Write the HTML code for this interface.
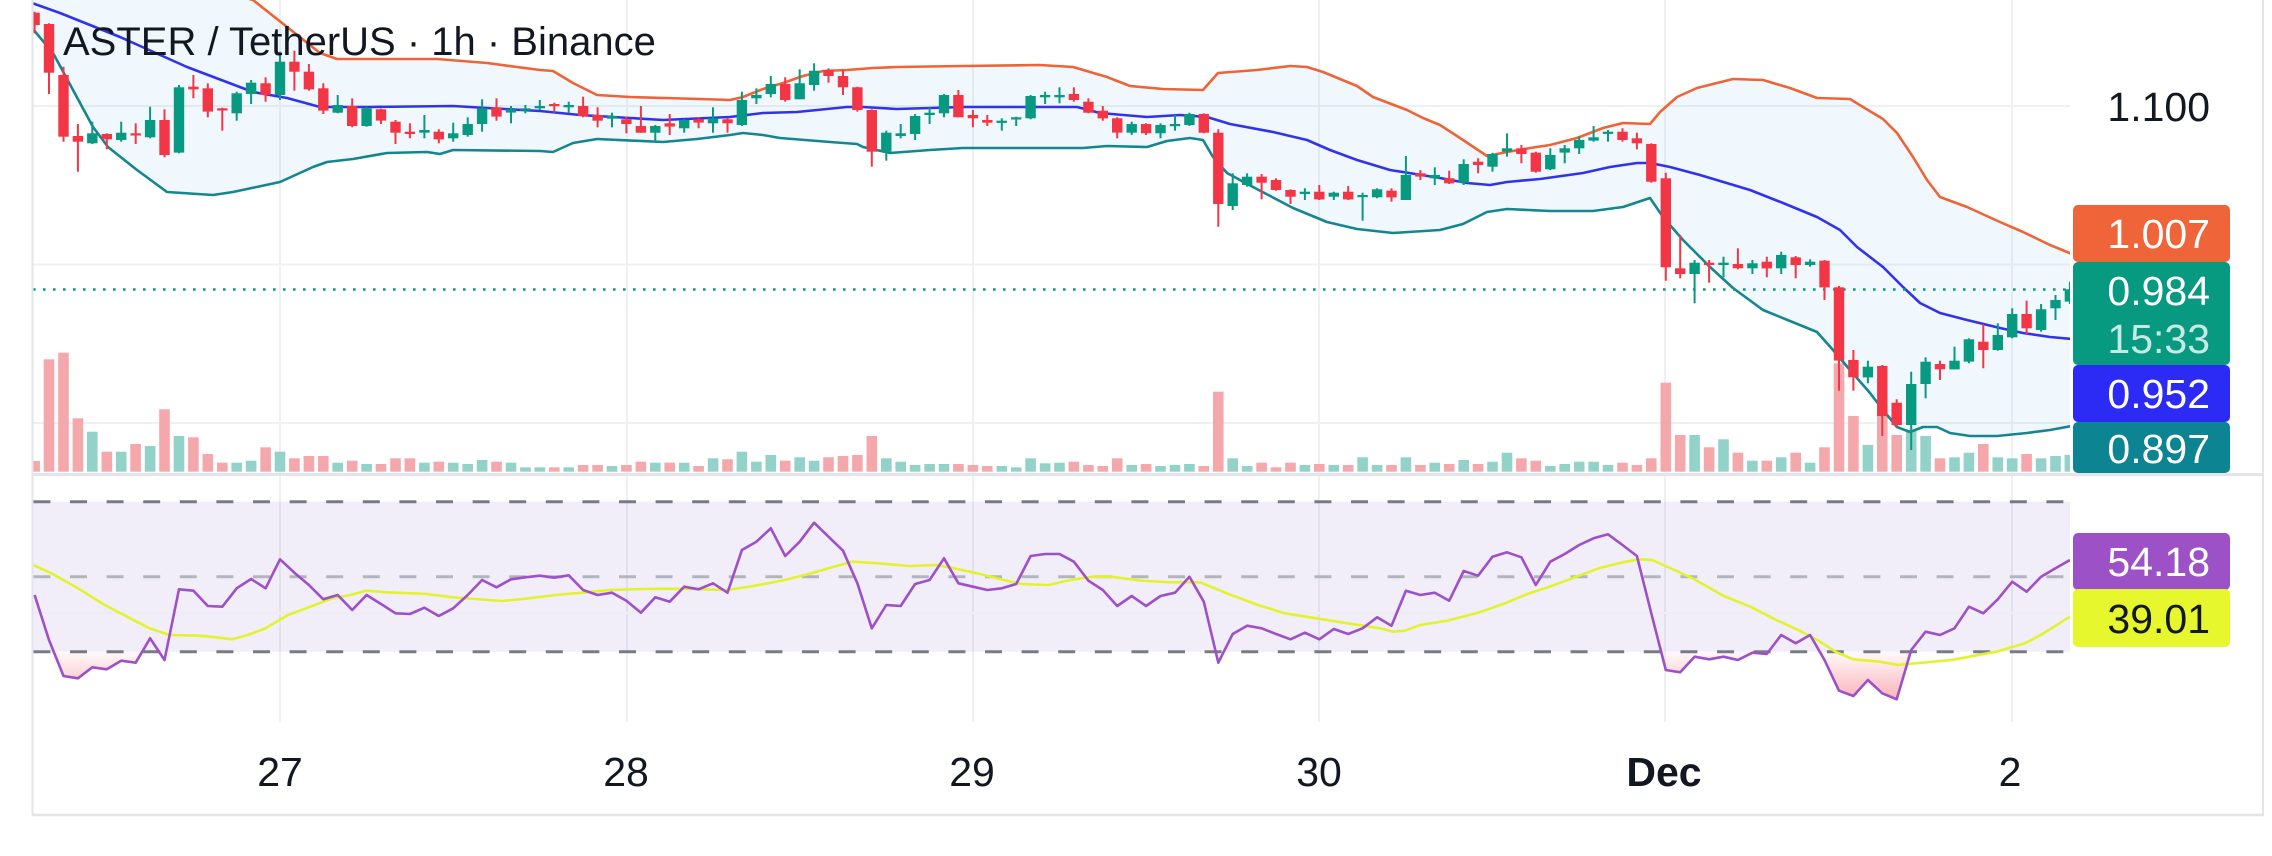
<!DOCTYPE html>
<html><head><meta charset="utf-8">
<style>
html,body{margin:0;padding:0;background:#fff;width:2272px;height:856px;overflow:hidden;}
svg{display:block;}
text{font-family:"Liberation Sans",Arial,sans-serif;}
</style></head><body>
<svg width="2272" height="856" viewBox="0 0 2272 856" xmlns="http://www.w3.org/2000/svg">
<defs>
<clipPath id="mp"><rect x="33" y="0" width="2037" height="473"/></clipPath>
<clipPath id="rp"><rect x="33" y="476" width="2037" height="246"/></clipPath>
<clipPath id="os"><rect x="33" y="652" width="2037" height="70"/></clipPath>
<linearGradient id="pg" x1="0" y1="652" x2="0" y2="700" gradientUnits="userSpaceOnUse">
<stop offset="0" stop-color="#f23645" stop-opacity="0.03"/>
<stop offset="1" stop-color="#f23645" stop-opacity="0.38"/>
</linearGradient>
</defs>
<rect width="2272" height="856" fill="#fff"/>
<g stroke="#eef0f3" stroke-width="2">
<line x1="280" y1="0" x2="280" y2="722"/>
<line x1="627" y1="0" x2="627" y2="722"/>
<line x1="973" y1="0" x2="973" y2="722"/>
<line x1="1319" y1="0" x2="1319" y2="722"/>
<line x1="1665" y1="0" x2="1665" y2="722"/>
<line x1="2012" y1="0" x2="2012" y2="722"/>
<line x1="33" y1="106" x2="2070" y2="106"/>
<line x1="33" y1="264.5" x2="2070" y2="264.5"/>
<line x1="33" y1="423" x2="2070" y2="423"/>
</g>
<g id="main" clip-path="url(#mp)"></g>
<g id="rsi" clip-path="url(#rp)"></g>
<g stroke="#e3e5ea" fill="none">
<line x1="32.5" y1="0" x2="32.5" y2="815" stroke-width="2"/>
<line x1="2263" y1="0" x2="2263" y2="815" stroke-width="2"/>
<line x1="32" y1="815" x2="2264" y2="815" stroke-width="2.5"/>
<line x1="32" y1="474.5" x2="2264" y2="474.5" stroke-width="3"/>
</g>
<text x="63" y="55" font-size="40" fill="#131722">ASTER / TetherUS · 1h · Binance</text>
<text x="2210" y="121" text-anchor="end" font-size="41" fill="#131722">1.100</text>
<rect x="2073" y="205" width="157" height="57" rx="5" fill="#f0643a"/>
<rect x="2073" y="262" width="157" height="103" rx="5" fill="#089981"/>
<rect x="2073" y="365" width="157" height="57" rx="5" fill="#2b2bf5"/>
<rect x="2073" y="422" width="157" height="51" rx="5" fill="#0c8491"/>
<text x="2210" y="248" text-anchor="end" font-size="41" fill="#fff">1.007</text>
<text x="2210" y="305" text-anchor="end" font-size="41" fill="#fff">0.984</text>
<text x="2210" y="353" text-anchor="end" font-size="41" fill="#fff" fill-opacity="0.78">15:33</text>
<text x="2210" y="408" text-anchor="end" font-size="41" fill="#fff">0.952</text>
<text x="2210" y="463" text-anchor="end" font-size="41" fill="#fff">0.897</text>
<line x1="32" y1="474.5" x2="2264" y2="474.5" stroke="#e3e5ea" stroke-width="3"/>
<rect x="2073" y="533" width="157" height="57" rx="5" fill="#9c52c6"/>
<rect x="2073" y="589" width="157" height="58" rx="5" fill="#e6f72e"/>
<text x="2210" y="576" text-anchor="end" font-size="41" fill="#fff">54.18</text>
<text x="2210" y="633" text-anchor="end" font-size="41" fill="#131722">39.01</text>
<g font-size="41" fill="#131722" text-anchor="middle">
<text x="280" y="786">27</text>
<text x="626" y="786">28</text>
<text x="972" y="786">29</text>
<text x="1319" y="786">30</text>
<text x="1664" y="786" font-weight="bold">Dec</text>
<text x="2010" y="786">2</text>
</g>
</svg>
<script>
(function(){
const X=i=>280+(i-17)*14.435;
const C=[[38,75,35,100],[72,218,70,282],[225,410,200,425],[408,425,372,515],[430,400,365,432],[402,418,400,448],[420,398,365,425],[400,406,370,432],[412,360,320,415],[360,465,328,472],
[458,262,255,460],[260,268,225,295],[265,335,250,352],[325,330,323,392],[340,280,275,362],[282,248,240,312],[250,285,232,305],[285,185,155,300],[185,215,152,272],[215,268,192,272],
[265,332,250,342],[338,315,285,340],[318,378,295,382],[378,325,322,380],[328,362,326,372],[365,398,360,432],[395,402,370,415],[398,390,345,415],[395,418,388,430],[415,400,368,425],
[405,372,352,410],[372,325,298,395],[322,350,295,362],[338,328,318,370],[330,325,315,340],[325,318,300,330],[312,318,308,338],[322,315,305,338],[318,348,290,352],[345,362,322,382],
[356,348,338,382],[358,372,350,400],[378,398,318,398],[398,378,375,425],[370,380,342,405],[385,360,358,398],[358,368,352,385],[370,355,322,398],[358,370,355,398],[375,300,275,378],
[295,285,265,312],[282,252,228,292],[252,300,232,305],[298,250,208,298],[255,212,190,272],[210,228,205,248],[228,262,210,285],[262,330,260,335],[330,455,328,500],[455,398,392,482],
[408,400,372,415],[402,348,342,420],[345,338,322,372],[340,285,282,352],[285,352,270,352],[345,355,330,382],[360,368,345,378],[366,362,355,392],[358,352,350,378],[355,288,285,358],
[292,285,275,312],[292,285,262,310],[282,300,262,305],[305,338,295,340],[332,355,318,362],[355,398,352,415],[398,372,365,405],[372,400,370,405],[400,375,370,415],[378,372,345,392],
[375,342,338,378],[342,398,340,400],[398,612,388,680],[618,550,520,630],[555,530,520,560],[530,548,522,598],[540,570,535,572],[570,590,568,612],[582,575,565,600],[575,598,555,600],
[590,578,575,600],[575,598,558,600],[590,585,578,662],[592,568,565,595],[572,592,565,605],[600,525,468,600],[520,530,510,540],[535,525,502,555],[535,550,512,552],[548,492,478,555],
[485,495,475,520],[500,462,458,515],[455,445,400,470],[445,462,435,490],[458,515,455,518],[508,465,445,510],[458,445,435,490],[445,420,410,462],[422,412,378,425],[400,395,390,425],
[395,420,385,425],[415,430,398,448],[432,545,430,548],[535,802,518,842],[805,822,705,835],[822,788,780,910],[788,795,780,848],[795,788,770,832],[792,805,745,808],[805,790,780,822],
[785,805,770,832],[805,765,755,822],[772,795,768,835],[795,785,778,800],[782,862,780,900],[862,1082,858,1172],[1080,1132,1050,1172],[1132,1100,1082,1150],[1098,1248,1095,1308],[1208,1275,1198,1280],
[1275,1152,1115,1350],[1152,1085,1072,1195],[1092,1108,1082,1140],[1108,1082,1040,1108],[1085,1018,1015,1090],[1025,1050,972,1105],[1050,1005,970,1052],[1012,942,925,1015],[942,985,902,1002],[990,928,912,995],
[925,900,885,960],[905,868,845,912]];
const V=[1383,1078,1058,1255,1295,1355,1355,1332,1338,1228,1308,1312,1362,1388,1388,1382,1342,1355,1375,1368,
1368,1388,1382,1392,1392,1375,1375,1388,1385,1388,1392,1380,1385,1388,1402,1402,1402,1402,1395,1395,
1398,1395,1385,1388,1388,1388,1398,1375,1378,1355,1385,1365,1382,1372,1382,1372,1368,1365,1308,1375,
1385,1395,1392,1392,1392,1395,1398,1398,1402,1375,1390,1388,1385,1395,1398,1375,1395,1392,1398,1395,
1392,1398,1175,1375,1398,1388,1402,1388,1395,1392,1395,1395,1372,1395,1395,1372,1395,1388,1392,1380,
1392,1385,1358,1375,1382,1398,1392,1385,1385,1395,1388,1395,1375,1148,1305,1305,1342,1318,1358,1382,
1382,1372,1358,1388,1342,1090,1248,1335,1210,1305,1290,1308,1375,1372,1358,1332,1372,1375,1362,1375,
1368,1365];
const R=[345,480,588,595,562,568,542,548,475,540,328,332,378,380,325,297,325,238,278,315,
358,345,390,345,372,400,402,383,408,385,345,300,322,298,292,287,293,286,330,345,
338,362,398,352,365,320,328,310,338,210,185,145,228,185,128,170,212,310,445,375,
378,312,300,235,310,320,330,325,312,228,222,222,245,302,330,378,348,378,348,338,
290,365,548,462,437,445,462,478,458,478,447,462,445,412,437,332,345,338,362,273,
287,230,217,232,315,245,222,195,175,163,195,228,400,570,577,530,538,530,540,518,
522,465,490,465,540,632,648,600,640,658,510,455,465,445,380,400,358,305,335,290,
265,240];
const up=[[32,-80],[200,-15],[253,0],[320,53],[337,59],[437,59],[487,63],[540,70],[553,71],[573,83],[597,95],[630,97],[700,99],[730,100],[743,97],[763,89],[783,83],[803,76],[823,71],[847,70],[873,68],[897,67],[963,66],[1040,65],[1073,67],[1107,77],[1130,86],[1163,89],[1203,90],[1218,73],[1257,70],[1290,66],[1307,67],[1323,72],[1357,86],[1373,97],[1407,110],[1423,118],[1440,125],[1460,138],[1487,156],[1507,152],[1530,148],[1550,145],[1577,138],[1603,128],[1623,123],[1650,124],[1660,112],[1677,97],[1697,88],[1733,79],[1763,80],[1790,88],[1817,98],[1850,99],[1863,107],[1883,119],[1897,133],[1913,157],[1927,180],[1940,197],[1967,207],[2000,222],[2023,232],[2050,245],[2072,254]];
const mid=[[32,3],[60,13],[120,37],[187,67],[253,92],[287,98],[320,107],[370,107],[453,106],[487,108],[540,111],[580,115],[630,118],[663,120],[730,117],[763,113],[797,112],[847,107],[863,107],[897,109],[930,108],[963,107],[1050,107],[1077,107],[1100,113],[1147,117],[1180,115],[1207,117],[1230,124],[1273,132],[1307,140],[1330,150],[1357,160],[1390,170],[1440,178],[1467,183],[1490,185],[1507,182],[1540,179],[1583,173],[1610,167],[1637,163],[1650,163],[1670,167],[1700,175],[1750,190],[1783,203],[1817,217],[1840,230],[1857,247],[1883,267],[1903,287],[1920,303],[1940,313],[1967,320],[2000,328],[2023,333],[2050,337],[2072,339]];
const lo=[[32,28],[53,53],[93,127],[108,147],[137,170],[167,192],[213,195],[233,192],[280,182],[313,167],[327,162],[353,159],[387,153],[427,152],[440,154],[453,150],[540,151],[553,152],[573,143],[597,139],[663,142],[697,139],[730,135],[743,133],[763,135],[780,138],[830,142],[857,144],[863,147],[890,153],[930,150],[963,148],[1050,148],[1083,148],[1107,146],[1147,147],[1167,141],[1190,138],[1203,140],[1213,157],[1227,173],[1253,187],[1293,208],[1327,222],[1357,229],[1393,233],[1440,230],[1463,224],[1487,212],[1507,209],[1550,211],[1593,211],[1623,207],[1650,198],[1663,217],[1683,240],[1710,267],[1733,288],[1763,310],[1790,321],[1817,332],[1833,350],[1850,370],[1870,393],[1883,410],[1897,427],[1910,432],[1923,427],[1937,427],[1950,433],[1970,436],[1997,436],[2027,433],[2050,430],[2072,426]];
const ma=[[33.4,565],[51.3,573.3],[78,588.3],[104.8,605],[127.1,616.7],[149.5,628.3],[169.6,635],[198.6,635.7],[216.4,637.3],[232,639.3],[247.7,635],[265.5,628.3],[287.9,615],[310.2,606.7],[332.5,598.3],[350.4,595],[366,590.7],[386.1,592.3],[412.9,593.3],[426.3,594],[453,597.3],[475.4,599],[502.1,601],[528.9,598.3],[555.7,595],[582.5,592.7],[609.3,590],[645,589],[667.3,588.7],[689.6,589],[700,589.3],[726.8,590],[753.6,586],[784.8,580],[811.6,573.3],[833.9,566.7],[851.8,561.7],[878.6,563.3],[909.8,566],[936.6,565],[958.9,569.3],[976.8,573.3],[1003.6,580],[1021.4,584],[1048.2,585],[1070.5,580],[1092.9,576.7],[1110.7,576.7],[1142,580.7],[1168.8,582.3],[1200,582.3],[1226.8,593.3],[1258,605],[1284.8,613.3],[1316,618.3],[1347.3,623.3],[1369.6,626.7],[1380,628.3],[1393.4,631.7],[1404.6,630.7],[1420.2,625],[1447,620.7],[1478.2,612.7],[1505,603.3],[1527.3,594],[1549.6,586.7],[1576.4,576.7],[1598.8,568.3],[1621.1,562.7],[1638.9,559.3],[1652.3,560],[1674.6,570],[1692.5,578.3],[1723.8,596],[1750.5,606.7],[1772.9,618.3],[1799.6,630.7],[1817.5,640],[1835.4,651.7],[1853.2,659.3],[1880,661.7],[1897.9,665],[1915.7,663.3],[1951.4,660],[1969.3,656.7],[1996.1,651.7],[2025.1,643.3],[2040.7,635],[2054.1,626.7],[2069.7,616.7]];
const f=n=>n.toFixed(1);
const pts=a=>a.map(p=>f(p[0])+','+f(p[1])).join(' ');
let s='';
// volume
C.forEach((c,i)=>{const red=c[1]>c[0];const t=V[i]/3;
s+='<rect x="'+f(X(i)-5.3)+'" y="'+f(t)+'" width="10.6" height="'+f(471.7-t)+'" fill="'+(red?'#f5a8ab':'#93d2c8')+'"/>';});
// band fill
const poly=up.concat(lo.slice().reverse());
s+='<polygon points="'+pts(poly)+'" fill="#2196f3" fill-opacity="0.065"/>';
s+='<polyline points="'+pts(up)+'" fill="none" stroke="#ef6436" stroke-width="2.6" stroke-linejoin="round"/>';
s+='<polyline points="'+pts(mid)+'" fill="none" stroke="#3232ec" stroke-width="2.6" stroke-linejoin="round"/>';
s+='<polyline points="'+pts(lo)+'" fill="none" stroke="#138691" stroke-width="2.6" stroke-linejoin="round"/>';
s+='<line x1="33" y1="289.5" x2="2070" y2="289.5" stroke="#089981" stroke-width="2.6" stroke-dasharray="2.6 7.4"/>';
// candles
C.forEach((c,i)=>{const red=c[1]>c[0];const col=red?'#f23645':'#089981';const x=X(i);
const top=Math.min(c[0],c[1])/3;let h=Math.abs(c[0]-c[1])/3;if(h<2.2)h=2.2;
s+='<line x1="'+f(x)+'" y1="'+f(c[2]/3)+'" x2="'+f(x)+'" y2="'+f(c[3]/3)+'" stroke="'+col+'" stroke-width="2"/>';
s+='<rect x="'+f(x-5.2)+'" y="'+f(top)+'" width="10.4" height="'+f(h)+'" fill="'+col+'"/>';});
document.getElementById('main').innerHTML=s;
// RSI
let r='';
r+='<rect x="33" y="501.7" width="2037" height="150" fill="#7e57c2" fill-opacity="0.1"/>';
r+='<line x1="33" y1="613" x2="2070" y2="613" stroke="#eceef2" stroke-width="2"/>';
r+='<line x1="33.4" y1="501.7" x2="2070" y2="501.7" stroke="#787b86" stroke-width="3" stroke-dasharray="17 19.6"/>';
r+='<line x1="33.4" y1="576.7" x2="2070" y2="576.7" stroke="#b2b5be" stroke-width="3" stroke-dasharray="17 19.6"/>';
r+='<line x1="33.4" y1="651.7" x2="2070" y2="651.7" stroke="#787b86" stroke-width="3" stroke-dasharray="17 19.6"/>';
const rp=R.map((v,i)=>[X(i),480+v/3]);
const fillp=rp.concat([[X(141),400],[X(0),400]]);
r+='<g clip-path="url(#os)"><polygon points="'+pts(fillp)+'" fill="url(#pg)"/></g>';
r+='<polyline points="'+pts(ma)+'" fill="none" stroke="#e2f32c" stroke-width="2.6" stroke-linejoin="round"/>';
r+='<polyline points="'+pts(rp)+'" fill="none" stroke="#9d50c8" stroke-width="2.6" stroke-linejoin="round"/>';
document.getElementById('rsi').innerHTML=r;
})();
</script>
</body></html>
